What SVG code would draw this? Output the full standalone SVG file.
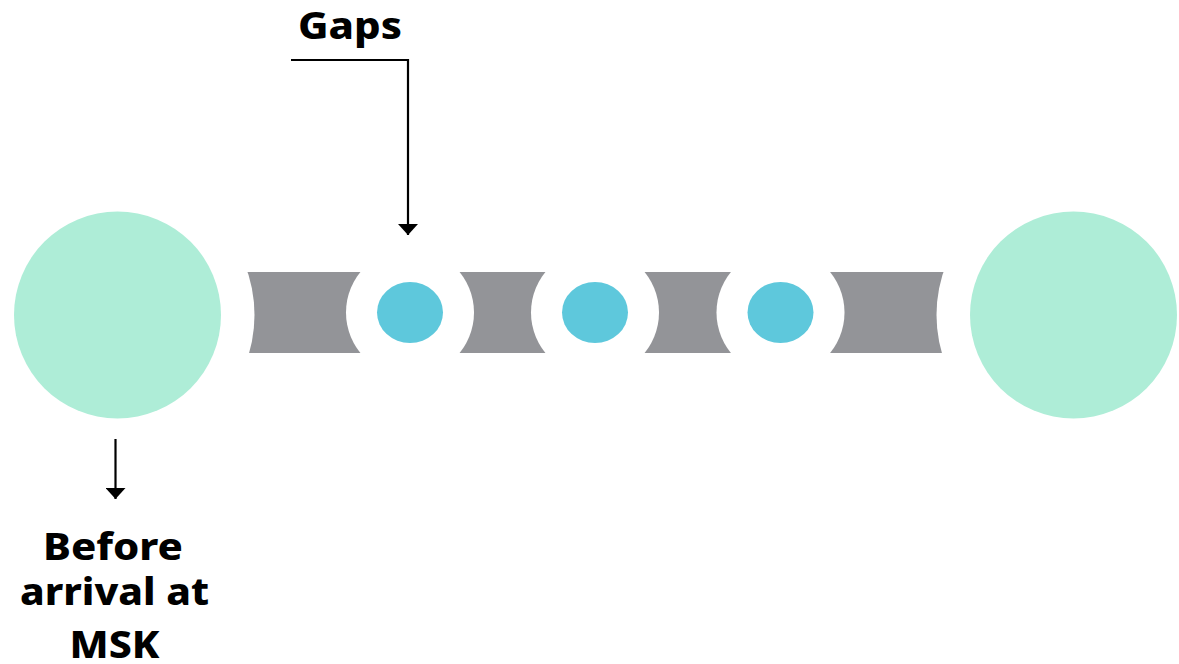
<svg xmlns="http://www.w3.org/2000/svg" width="1179" height="664" viewBox="0 0 1179 664">
  <defs>
    <style>
      .node { fill: #AEEDD7; }
      .bar { fill: #939498; }
      .dot { fill: #5EC8DC; }
      .conn { fill: none; stroke: #000; stroke-width: 2.2; }
      .label { font-family: "Noto Sans", "Liberation Sans", sans-serif; font-weight: 800; font-size: 37px; fill: #000; text-anchor: middle; }
    </style>
    <marker id="arrow" viewBox="0 0 11 20" refX="11" refY="10" markerWidth="11" markerHeight="20" markerUnits="userSpaceOnUse" orient="auto">
      <path d="M0,0 L11,10 L0,20 Z" fill="#000"/>
    </marker>
    <!-- gray track with round clearances cut around every node and dot -->
    <mask id="trackCut" maskUnits="userSpaceOnUse" x="0" y="0" width="1179" height="664">
      <rect x="0" y="0" width="1179" height="664" fill="#fff"/>
      <circle cx="117.5" cy="315" r="137" fill="#000"/>
      <circle cx="1073.5" cy="315" r="137" fill="#000"/>
      <circle cx="410" cy="312.5" r="64" fill="#000"/>
      <circle cx="595" cy="312.5" r="64" fill="#000"/>
      <circle cx="780.5" cy="312.5" r="64" fill="#000"/>
    </mask>
  </defs>

  <rect width="1179" height="664" fill="#fff"/>

  <g id="track">
    <rect class="bar" x="240" y="272" width="712" height="81" mask="url(#trackCut)"/>
  </g>

  <g id="node-start">
    <circle class="node" cx="117.5" cy="315" r="103.5"/>
  </g>
  <g id="node-end">
    <circle class="node" cx="1073.5" cy="315" r="103.5"/>
  </g>
  <g id="gap-1">
    <ellipse class="dot" cx="410" cy="312.5" rx="33" ry="30.5"/>
  </g>
  <g id="gap-2">
    <ellipse class="dot" cx="595" cy="312.5" rx="33" ry="30.5"/>
  </g>
  <g id="gap-3">
    <ellipse class="dot" cx="780.5" cy="312.5" rx="33" ry="30.5"/>
  </g>

  <g id="connectors">
    <path class="conn" d="M291,60 H408 V235" marker-end="url(#arrow)"/>
    <path class="conn" d="M115.5,439 V499" marker-end="url(#arrow)"/>
  </g>

  <g id="label-gaps">
    <text class="label" x="350" y="39" textLength="104" lengthAdjust="spacingAndGlyphs">Gaps</text>
  </g>
  <g id="label-before">
    <text class="label" x="113" y="560" textLength="140" lengthAdjust="spacingAndGlyphs">Before</text>
    <text class="label" x="114.5" y="605" textLength="189" lengthAdjust="spacingAndGlyphs">arrival at</text>
    <text class="label" x="114.5" y="658" textLength="90" lengthAdjust="spacingAndGlyphs">MSK</text>
  </g>
</svg>
